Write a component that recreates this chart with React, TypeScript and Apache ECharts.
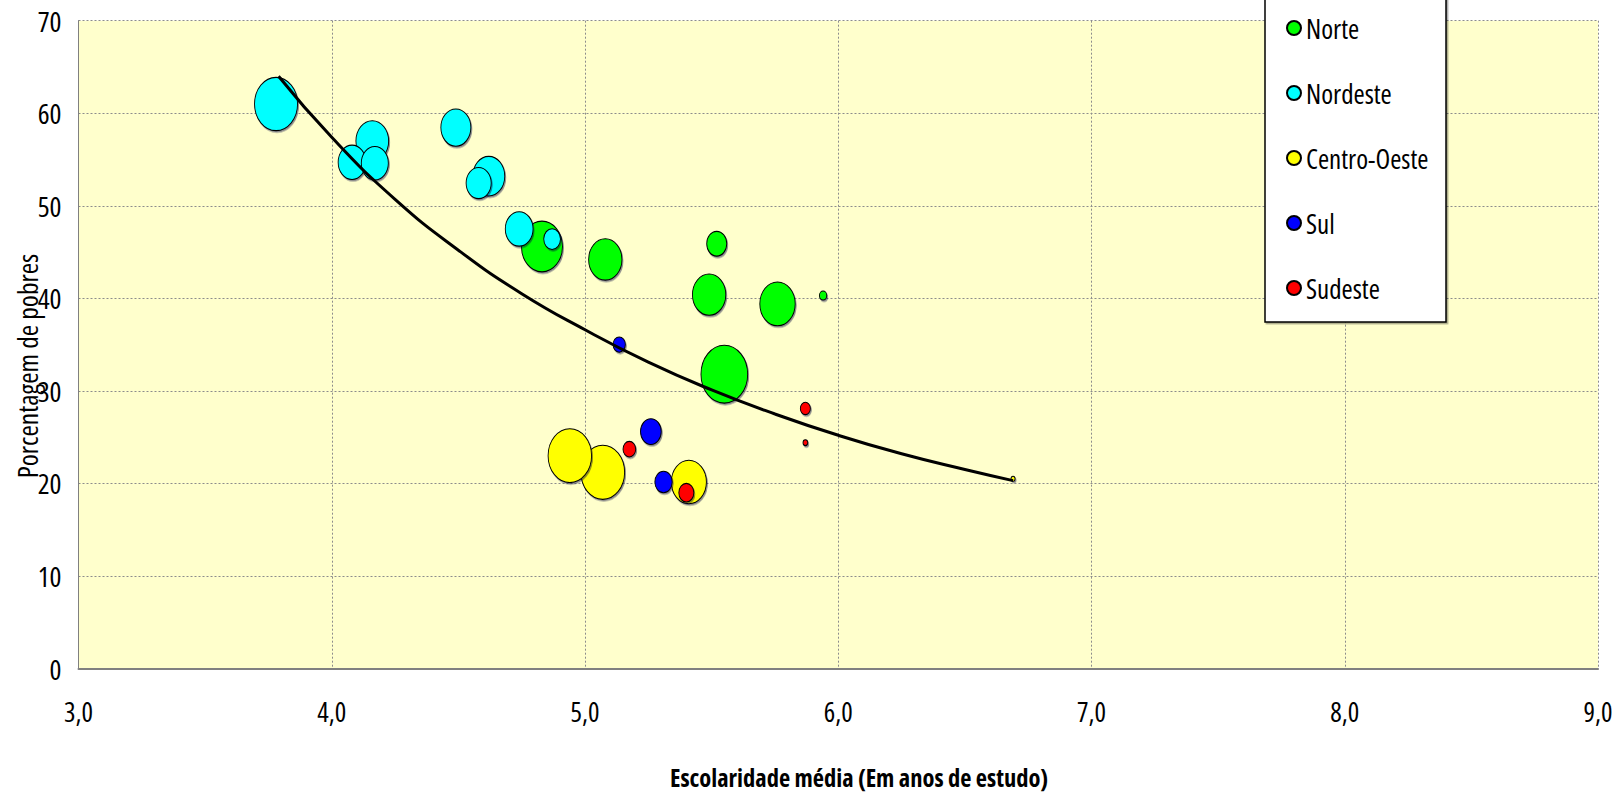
import React, { useEffect, useRef } from "react";
import * as echarts from "echarts";

// ---- Data ----
// Norte
const norteX = [4.83, 5.08, 5.52, 5.49, 5.76, 5.94, 5.55];
const norteY = [45.6, 44.2, 45.9, 40.4, 39.4, 40.3, 31.8];
const norteSize = [16.8, 11.1, 4.0, 11.1, 12.5, 0.53, 21.8];
// Nordeste
const nordesteX = [3.78, 4.16, 4.08, 4.17, 4.49, 4.62, 4.58, 4.74, 4.87];
const nordesteY = [61.0, 57.0, 54.7, 54.6, 58.45, 53.2, 52.45, 47.5, 46.4];
const nordesteSize = [18.5, 10.7, 7.7, 7.3, 9.0, 10.2, 6.3, 7.7, 2.8];
// Centro-Oeste
const centroX = [4.94, 5.07, 5.41, 6.69];
const centroY = [23.0, 21.2, 20.15, 20.5];
const centroSize = [18.9, 19.1, 12.3, 0.16];
// Sul
const sulX = [5.135, 5.26, 5.31];
const sulY = [35.0, 25.6, 20.15];
const sulSize = [1.5, 4.3, 3.0];
// Sudeste
const sudesteX = [5.175, 5.4, 5.87, 5.87];
const sudesteY = [23.7, 19.0, 28.1, 24.4];
const sudesteSize = [1.6, 2.25, 1.0, 0.22];

// Trend line
const trendX = [3.79, 4.0, 4.25, 4.5, 4.75, 5.0, 5.25, 5.5, 5.75, 6.0, 6.25, 6.5, 6.69];
const trendY = [64.0, 57.4, 50.7, 45.2, 40.5, 36.6, 33.1, 30.1, 27.5, 25.2, 23.2, 21.5, 20.3];

const regionNames = ["Norte", "Nordeste", "Centro-Oeste", "Sul", "Sudeste"];
const regionColors = ["#00FF00", "#00FFFF", "#FFFF00", "#0000FF", "#FF0000"];

const xTitle = "Escolaridade média (Em anos de estudo)";
const yTitle = "Porcentagem de pobres";

const FONT = "'Open Sans', 'DejaVu Sans Condensed', sans-serif";
const ELLIPSE = "path://M50,0A50,50,0,1,1,50,100A50,50,0,1,1,50,0Z";

function build(xs: number[], ys: number[], ss: number[]) {
  const pts = xs.map((x, i) => [x, ys[i], ss[i]]);
  // larger bubbles drawn first so the smaller ones stay visible
  pts.sort((a, b) => b[2] - a[2]);
  return pts;
}

export default function App() {
  const ref = useRef<HTMLDivElement>(null);

  useEffect(() => {
    if (!ref.current) return;
    const chart = echarts.init(ref.current, null, { renderer: "svg" });

    const sets = [
      build(norteX, norteY, norteSize),
      build(nordesteX, nordesteY, nordesteSize),
      build(centroX, centroY, centroSize),
      build(sulX, sulY, sulSize),
      build(sudesteX, sudesteY, sudesteSize),
    ];

    const scatterSeries = sets.map((data, i) => ({
      type: "scatter",
      name: regionNames[i],
      data,
      symbol: ELLIPSE,
      symbolSize: (v: number[]) => {
        const d = 10 * Math.sqrt(v[2]);
        return [d, d * 1.24];
      },
      itemStyle: {
        color: regionColors[i],
        borderColor: "#000",
        borderWidth: 1,
        opacity: 1,
        shadowColor: "rgba(0,0,60,0.45)",
        shadowOffsetX: 1,
        shadowOffsetY: 1.5,
        shadowBlur: 1,
      },
      emphasis: { disabled: true },
      z: 2 + i * 0.01,
    }));

    const trendSeries = {
      type: "line",
      name: "trend",
      data: trendX.map((x, i) => [x, trendY[i]]),
      smooth: true,
      showSymbol: false,
      symbol: "none",
      lineStyle: { color: "#000", width: 3 },
      emphasis: { disabled: true },
      z: 3,
    };

    chart.setOption({
      animation: false,
      backgroundColor: "#FFFFFF",
      textStyle: { fontFamily: FONT },
      grid: {
        left: 78.5,
        top: 20.7,
        right: 19.3,
        bottom: 124.5,
        show: true,
        backgroundColor: "#FFFFCC",
        borderWidth: 0,
      },
      xAxis: {
        type: "value",
        min: 3,
        max: 9,
        interval: 1,
        axisLine: { show: true, lineStyle: { color: "#808080", width: 2 } },
        axisTick: { show: false },
        axisLabel: {
          color: "#000",
          fontSize: 27,
          fontFamily: FONT,
          margin: 29,
          formatter: (v: number) => v.toFixed(1).replace(".", ","),
        },
        splitLine: {
          show: true,
          lineStyle: { color: "#8C8C8C", width: 1, type: [2, 2] },
        },
      },
      yAxis: {
        type: "value",
        min: 0,
        max: 70,
        interval: 10,
        axisLine: { show: true, lineStyle: { color: "#808080", width: 1 } },
        axisTick: { show: false },
        axisLabel: {
          color: "#000",
          fontSize: 28,
          fontFamily: FONT,
          margin: 17,
        },
        splitLine: {
          show: true,
          lineStyle: { color: "#8C8C8C", width: 1, type: [2, 2] },
        },
      },
      legend: {
        data: regionNames,
        orient: "vertical",
        left: 1286,
        top: 14,
        padding: 0,
        itemGap: 37,
        itemWidth: 14,
        itemHeight: 16,
        icon: ELLIPSE,
        selectedMode: false,
        textStyle: {
          color: "#000",
          fontSize: 27,
          fontFamily: FONT,
          lineHeight: 28,
        },
        z: 5,
      },
      graphic: [
        {
          type: "rect",
          z: 4,
          shape: { x: 1265, y: -10, width: 181, height: 332 },
          style: {
            fill: "#FFFFFF",
            stroke: "#000",
            lineWidth: 1.5,
            shadowColor: "rgba(0,0,0,0.35)",
            shadowOffsetX: 1.5,
            shadowOffsetY: 1.5,
            shadowBlur: 1,
          },
        },
        {
          type: "text",
          z: 5,
          x: 859,
          y: 777,
          style: {
            text: xTitle,
            fontFamily: FONT,
            fontSize: 24.5,
            fontWeight: "bold",
            fill: "#000",
            textAlign: "center",
            textVerticalAlign: "middle",
          },
        },
        {
          type: "text",
          z: 5,
          x: 27,
          y: 366,
          rotation: Math.PI / 2,
          style: {
            text: yTitle,
            fontFamily: FONT,
            fontSize: 27.5,
            fill: "#000",
            textAlign: "center",
            textVerticalAlign: "middle",
          },
        },
      ],
      series: [...scatterSeries, trendSeries],
    });

    return () => chart.dispose();
  }, []);

  return (
    <>
      <style>{`.chart-root svg text { font-stretch: condensed !important; }`}</style>
      <div
        ref={ref}
        className="chart-root"
        style={{
          position: "absolute",
          left: 0,
          top: 0,
          width: "1620px",
          height: "793px",
          background: "#fff",
        }}
      />
    </>
  );
}
